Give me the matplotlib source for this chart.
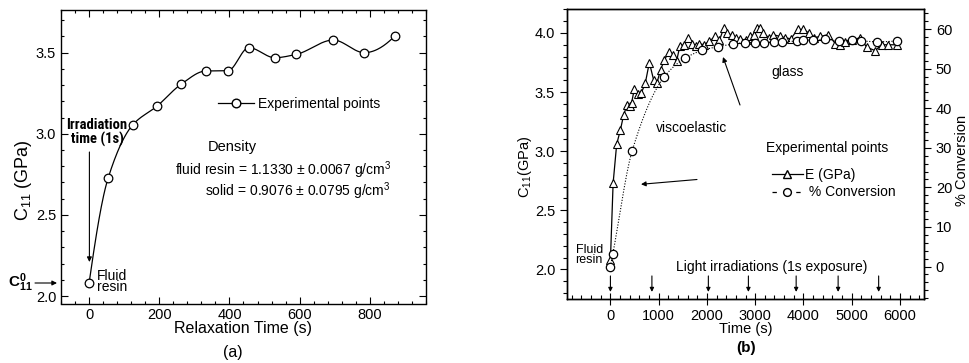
import os
import numpy as np
import matplotlib
matplotlib.use('Agg')
import matplotlib.pyplot as plt
from matplotlib.lines import Line2D
from matplotlib.ticker import MultipleLocator
from matplotlib import font_manager as fm

plt.rcParams['font.family'] = ['Liberation Sans', 'DejaVu Sans']
plt.rcParams['mathtext.fontset'] = 'custom'
plt.rcParams['mathtext.rm'] = 'Liberation Sans'
plt.rcParams['mathtext.it'] = 'Liberation Sans:italic'
plt.rcParams['mathtext.bf'] = 'Liberation Sans:bold'


def find_font(patterns):
    files = fm.findSystemFonts()
    for p in patterns:
        for f in files:
            if p.lower() in os.path.basename(f).lower():
                return f
    return None


NB_FILE = find_font(['LiberationSansNarrow-Bold.', 'RobotoCondensed-Bold.',
                     'DejaVuSansCondensed-Bold.'])

# ---------------- data: panel (a) ----------------
time_a = [0, 54, 124, 194, 262, 332, 396, 455, 529, 591, 696, 784, 872]
c11_a = [2.08, 2.725, 3.054, 3.171, 3.305, 3.387, 3.389, 3.531, 3.469, 3.490, 3.578, 3.50, 3.605]
xticks_a = [0, 200, 400, 600, 800]
yticks_a = [2.0, 2.5, 3.0, 3.5]

# ---------------- data: panel (b) ----------------
time_e = [0, 56, 130, 207, 276, 345, 400, 440, 497, 566, 640, 725, 807, 897, 966,
          1040, 1118, 1210, 1290, 1370, 1440, 1530, 1610, 1690, 1770, 1840, 1940,
          2050, 2170, 2260, 2350, 2420, 2520, 2600, 2690, 2800, 2900, 2970, 3040,
          3100, 3170, 3280, 3380, 3520, 3620, 3740, 3880, 4000, 4110, 4220, 4350,
          4520, 4660, 4750, 4870, 5000, 5180, 5310, 5490, 5620, 5760, 5930]
e_gpa = [2.08, 2.73, 3.06, 3.18, 3.31, 3.39, 3.38, 3.41, 3.53, 3.48, 3.49, 3.58, 3.75,
         3.60, 3.58, 3.69, 3.77, 3.84, 3.81, 3.76, 3.89, 3.90, 3.96, 3.91, 3.89, 3.91,
         3.90, 3.93, 3.97, 3.94, 4.04, 4.00, 3.98, 3.96, 3.95, 3.94, 3.97, 3.985, 4.04,
         4.04, 4.00, 3.96, 3.985, 3.97, 3.96, 3.95, 4.03, 4.03, 4.00, 3.96, 3.97, 3.985,
         3.91, 3.90, 3.92, 3.94, 3.96, 3.88, 3.85, 3.90, 3.90, 3.90]
time_c = [0, 50, 450, 1120, 1540, 1900, 2240, 2540, 2780, 3000, 3190, 3400, 3560,
          3860, 4000, 4200, 4450, 4740, 5000, 5200, 5520, 5930]
conv = [0, 3.2, 29.2, 48.0, 52.6, 54.6, 55.6, 56.2, 56.6, 56.6, 56.6, 56.8, 56.8,
        57.0, 57.2, 57.2, 57.4, 57.0, 57.2, 57.0, 56.8, 57.0]
irradiation_times = [0, 860, 2030, 2860, 3850, 4720, 5560]
xticks_b = [0, 1000, 2000, 3000, 4000, 5000, 6000]
yticks_b = [2.0, 2.5, 3.0, 3.5, 4.0]
yticks_b2 = [0, 10, 20, 30, 40, 50, 60]


def pchip(x, y, n=400):
    x = np.asarray(x, float); y = np.asarray(y, float)
    h = np.diff(x); d = np.diff(y) / h
    m = np.zeros_like(y)
    for k in range(1, len(x) - 1):
        if d[k - 1] * d[k] > 0:
            w1 = 2 * h[k] + h[k - 1]; w2 = h[k] + 2 * h[k - 1]
            m[k] = (w1 + w2) / (w1 / d[k - 1] + w2 / d[k])

    def endslope(h0, h1, d0, d1):
        s = ((2 * h0 + h1) * d0 - h0 * d1) / (h0 + h1)
        if np.sign(s) != np.sign(d0):
            s = 0.0
        elif np.sign(d0) != np.sign(d1) and abs(s) > abs(3 * d0):
            s = 3 * d0
        return s
    m[0] = endslope(h[0], h[1], d[0], d[1])
    m[-1] = endslope(h[-1], h[-2], d[-1], d[-2])
    xs = np.linspace(x[0], x[-1], n)
    idx = np.clip(np.searchsorted(x, xs) - 1, 0, len(x) - 2)
    t = (xs - x[idx]) / h[idx]
    h00 = 2 * t**3 - 3 * t**2 + 1; h10 = t**3 - 2 * t**2 + t
    h01 = -2 * t**3 + 3 * t**2; h11 = t**3 - t**2
    ys = h00 * y[idx] + h10 * h[idx] * m[idx] + h01 * y[idx + 1] + h11 * h[idx] * m[idx + 1]
    return xs, ys


W, H = 970, 363
fig = plt.figure(figsize=(W / 100, H / 100), dpi=100)


def rect(x0, y0, x1, y1):
    return [x0 / W, 1 - y1 / H, (x1 - x0) / W, (y1 - y0) / H]


def fp(x, y):
    return (x / W, 1 - y / H)


FS = 10.5
LW = 0.9
ARROW = dict(arrowstyle='-|>', color='black', lw=0.8, mutation_scale=7, shrinkA=0, shrinkB=0)

# ================= panel (a) =================
axa = fig.add_axes(rect(61, 10, 426, 303.5))
xs, ys = pchip(time_a, c11_a)
axa.plot(xs, ys, color='black', lw=LW)
axa.plot(time_a, c11_a, ls='none', marker='o', ms=6.2, mfc='white', mec='black', mew=0.9)
axa.set_xlim(-80, 960)
axa.set_ylim(1.954, 3.763)
axa.set_xticks(xticks_a)
axa.set_yticks(yticks_a)
axa.xaxis.set_minor_locator(MultipleLocator(40))
axa.yaxis.set_minor_locator(MultipleLocator(0.1))
axa.tick_params(which='both', direction='in', top=True, right=True, labelsize=FS, width=0.8)
axa.tick_params(which='major', length=5)
axa.tick_params(which='minor', length=2.5)
for s in axa.spines.values():
    s.set_linewidth(1.0)

axa.legend(handles=[Line2D([], [], color='black', lw=LW, marker='o', ms=6.2,
                           mfc='white', mec='black')],
           labels=['Experimental points'], loc='center left',
           bbox_to_anchor=((218 - 61) / 365, 1 - (104 - 10) / 293.5),
           frameon=False, fontsize=10, handlelength=2.6, handletextpad=0.3,
           borderpad=0, borderaxespad=0)

if NB_FILE:
    irr_font = fm.FontProperties(fname=NB_FILE, size=10.5)
else:
    irr_font = fm.FontProperties(family='Liberation Sans', weight='bold', size=9)
fig.text(*fp(97, 132.5), 'Irradiation\ntime (1s)', ha='center', va='center',
         fontproperties=irr_font, linespacing=1.05)
fig.text(*fp(97, 281.5), 'Fluid\nresin', ha='left', va='center', fontsize=10,
         linespacing=0.8)
axa.annotate('', xy=fp(89.4, 262), xytext=fp(89.4, 152), xycoords='figure fraction',
             textcoords='figure fraction', arrowprops=ARROW)
fig.text(*fp(232, 147), 'Density', ha='center', va='center', fontsize=10.5)
fig.text(*fp(391, 170), 'fluid resin = 1.1330 ± 0.0067 g/cm$^3$', ha='right', va='center',
         fontsize=10)
fig.text(*fp(391, 191), 'solid = 0.9076 ± 0.0795 g/cm$^3$', ha='right', va='center',
         fontsize=10)
fig.text(*fp(8, 283), r'$\mathbf{C}_{\mathbf{11}}^{\mathbf{0}}$', ha='left', va='center',
         fontsize=11)
axa.annotate('', xy=fp(57, 283), xytext=fp(35, 283), xycoords='figure fraction',
             textcoords='figure fraction', arrowprops=ARROW, annotation_clip=False)
fig.text(*fp(24, 180), 'C$_{11}$ (GPa)', rotation=90, ha='center', va='center', fontsize=13)
fig.text(*fp(243, 328), 'Relaxation Time (s)', ha='center', va='center', fontsize=11.5)
fig.text(*fp(233, 352), '(a)', ha='center', va='center', fontsize=11.5)

# ================= panel (b) =================
axb = fig.add_axes(rect(567, 9.3, 924, 299))
axb2 = axb.twinx()
axb.plot(time_e, e_gpa, color='black', lw=LW, marker='^', ms=5.6, mfc='white',
         mec='black', mew=0.8, zorder=3)
xs, ys = pchip(time_c, conv)
axb2.plot(xs, ys, color='black', lw=0.8, ls=(0, (1, 1.5)))
axb2.plot(time_c, conv, ls='none', marker='o', ms=6.0, mfc='white', mec='black', mew=0.9)
axb.set_xlim(-900, 6500)
axb.set_ylim(1.75, 4.2)
axb2.set_ylim(-8.2, 65)
axb.set_xticks(xticks_b)
axb.set_yticks(yticks_b)
axb2.set_yticks(yticks_b2)
axb.xaxis.set_minor_locator(MultipleLocator(200))
axb.yaxis.set_minor_locator(MultipleLocator(0.1))
axb2.yaxis.set_minor_locator(MultipleLocator(2))
axb.tick_params(axis='y', which='both', direction='out', labelsize=FS, width=0.8)
axb2.tick_params(axis='y', which='both', direction='out', labelsize=FS, width=0.8)
axb.tick_params(axis='x', which='major', direction='inout', labelsize=FS, width=0.8, length=8)
axb.tick_params(axis='x', which='minor', direction='in', width=0.8, length=3)
for a in (axb, axb2):
    a.tick_params(which='major', axis='y', length=5)
    a.tick_params(which='minor', axis='y', length=3)
    for s in a.spines.values():
        s.set_linewidth(1.0)

for t in irradiation_times:
    axb.annotate('', xy=(t, 1.81), xytext=(t, 1.945),
                 arrowprops=dict(ARROW, mutation_scale=6))
axb.annotate('', xy=fp(723, 57), xytext=fp(740, 105), xycoords='figure fraction',
             textcoords='figure fraction', arrowprops=ARROW)
axb.annotate('', xy=fp(641, 184.3), xytext=fp(697, 179.5), xycoords='figure fraction',
             textcoords='figure fraction', arrowprops=ARROW)

fig.text(*fp(692, 128), 'viscoelastic', ha='center', va='center', fontsize=10)
fig.text(*fp(787.5, 72), 'glass', ha='center', va='center', fontsize=10)
fig.text(*fp(827.5, 148), 'Experimental points', ha='center', va='center', fontsize=10)
fig.text(*fp(771.5, 267), 'Light irradiations (1s exposure)', ha='center', va='center',
         fontsize=10)
fig.text(*fp(603, 255), 'Fluid\nresin', ha='right', va='center', fontsize=9,
         linespacing=0.85)

h_e = Line2D([], [], color='black', lw=LW, marker='^', ms=5.6, mfc='white', mec='black')
h_c = Line2D([], [], color='black', lw=LW, ls=(0, (3.5, 6)), marker='o', ms=5.6,
             mfc='white', mec='black')
axb.legend(handles=[h_e, h_c], labels=['E (GPa)', ' % Conversion'], loc='upper right',
           bbox_to_anchor=((896 - 567) / 357, 1 - (168 - 9.3) / 289.7), frameon=False,
           fontsize=10, handlelength=2.2, handletextpad=0.2, labelspacing=0.25,
           borderpad=0, borderaxespad=0)

fig.text(*fp(525, 167), 'C$_{11}$(GPa)', rotation=90, ha='center', va='center', fontsize=FS)
fig.text(*fp(962, 160), '% Conversion', rotation=90, ha='center', va='center', fontsize=FS)
fig.text(*fp(746, 329), 'Time (s)', ha='center', va='center', fontsize=FS)
fig.text(*fp(746, 348), '(b)', ha='center', va='center', fontsize=11, weight='bold')

fig.savefig('out.png', dpi=100)
